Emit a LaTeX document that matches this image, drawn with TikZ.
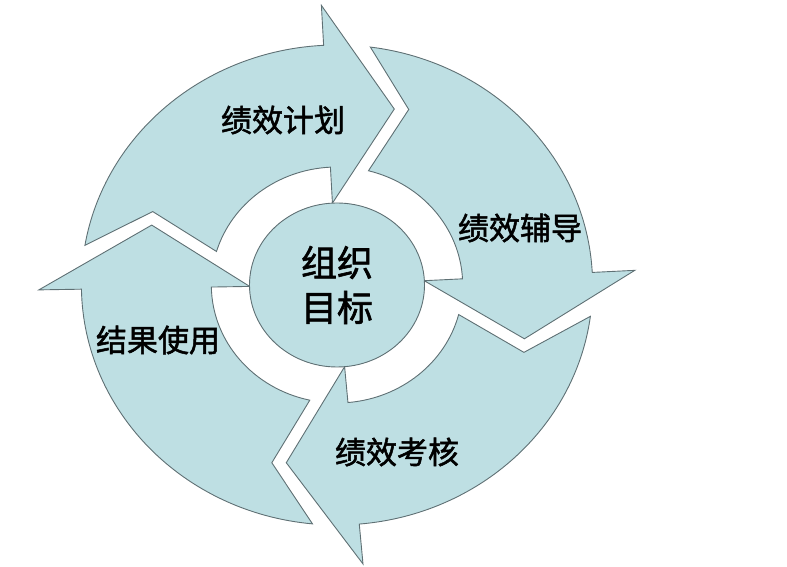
\documentclass[tikz,border=0pt]{standalone}
\usepackage{xcolor}
\usepackage{fontspec}
\usepackage{tikz}
\usetikzlibrary{shapes.geometric}
\newfontfamily\cjk{Noto Sans CJK SC}[FakeBold=1.6,BoldFont={Noto Sans CJK SC}]
\definecolor{ringfill}{RGB}{190,223,227}
\definecolor{ringline}{RGB}{95,112,116}

\begin{document}
\begin{tikzpicture}[x=1pt,y=1pt]
\useasboundingbox (0,0) rectangle (787,567);
\begin{scope}[shift={(337,282)},xscale=1.065]
\foreach \p/\h in {-179/-267, 93/3, 3/-85, -85/-179}{
\draw[fill=ringfill, draw=ringline, line width=.9pt]
  (\p-10.5:240) arc[start angle=\p-10.5, end angle=\h, radius=240]
  -- (\h:280) -- (\h-20:184) -- (\h:82) -- (\h:118)
  arc[start angle=\h, end angle=\p-17.5, radius=118]
  -- (\p-24:188) -- cycle;
}
\end{scope}
\node[ellipse, fill=ringfill, draw=ringline, line width=.9pt, minimum width=175, minimum height=164, inner sep=0pt, align=center, font=\cjk\bfseries\fontsize{36}{45}\selectfont] (goal) at (337,282) {组织\\目标};
\node[font=\cjk\bfseries\fontsize{31}{36}\selectfont] (plan) at (283,447) {绩效计划};
\node[font=\cjk\bfseries\fontsize{31}{36}\selectfont] (coach) at (520,339) {绩效辅导};
\node[font=\cjk\bfseries\fontsize{31}{36}\selectfont] (review) at (397,115) {绩效考核};
\node[font=\cjk\bfseries\fontsize{31}{36}\selectfont] (use) at (158,227) {结果使用};
\end{tikzpicture}
\end{document}
